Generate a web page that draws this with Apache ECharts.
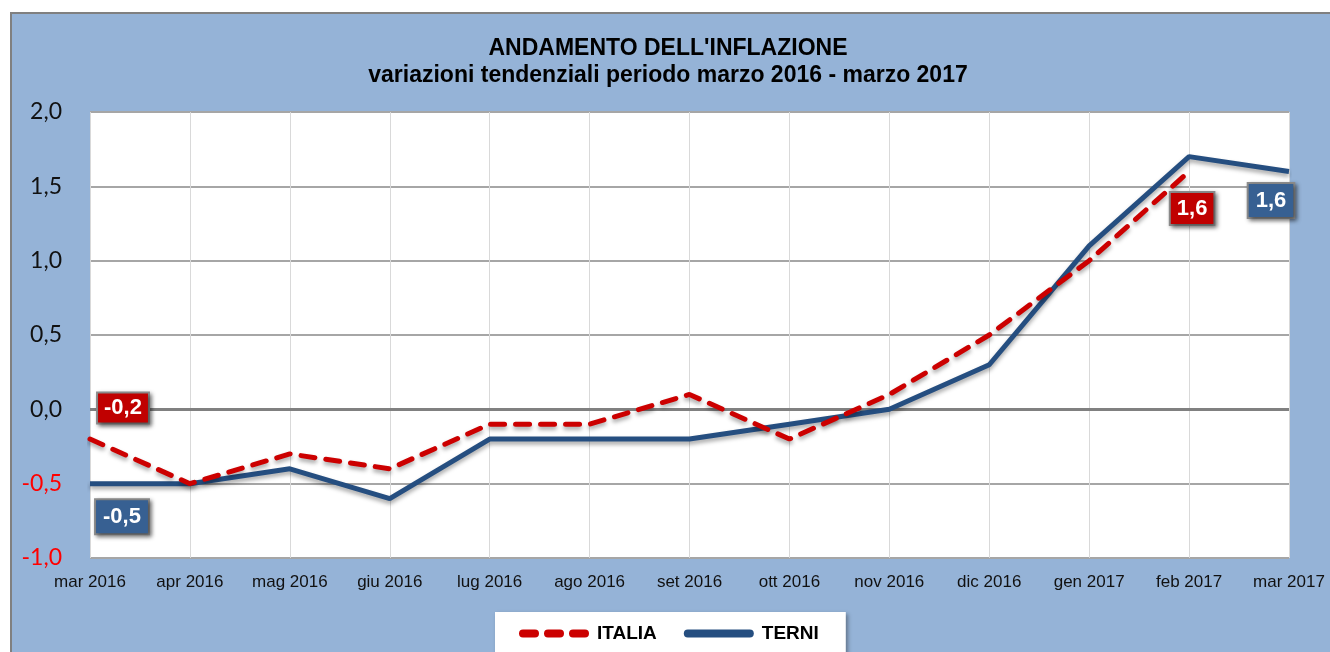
<!DOCTYPE html>
<html>
<head>
<meta charset="utf-8">
<script src="https://cdn.jsdelivr.net/npm/echarts@6/dist/echarts.min.js"></script>
<style>
    html, body { margin: 0; padding: 0; background: #fff; }
    #main { width: 1330px; height: 652px; }
</style>
</head>
<body>
<div id="main"></div>
<script>
var mesi = ['mar 2016', 'apr 2016', 'mag 2016', 'giu 2016', 'lug 2016', 'ago 2016', 'set 2016',
    'ott 2016', 'nov 2016', 'dic 2016', 'gen 2017', 'feb 2017', 'mar 2017'];
var italia = [-0.2, -0.5, -0.3, -0.4, -0.1, -0.1, 0.1, -0.2, 0.1, 0.5, 1.0, 1.6, null];
var terni = [-0.5, -0.5, -0.4, -0.6, -0.2, -0.2, -0.2, -0.1, 0.0, 0.3, 1.1, 1.7, 1.6];

function virgola(v) {
    return v.toFixed(1).replace('.', ',');
}

// etichetta a riquadro sui punti estremi
function etichetta(colore, offset, pad) {
    return {
        show: true,
        position: 'inside',
        offset: offset,
        formatter: function (p) { return virgola(p.value); },
        color: '#fff',
        fontFamily: 'Liberation Sans',
        fontWeight: 'bold',
        fontSize: 22,
        backgroundColor: colore,
        borderColor: '#8c8c8c',
        borderWidth: 2,
        padding: pad,
        shadowColor: 'rgba(0,0,0,0.45)',
        shadowBlur: 4,
        shadowOffsetX: 2,
        shadowOffsetY: 2
    };
}

function conEtichette(valori, etichette) {
    return valori.map(function (v, i) {
        if (etichette[i]) return { value: v, label: etichette[i] };
        return v;
    });
}

function initChart() {
    var myChart = echarts.init(document.getElementById('main'));
    var option = {
        backgroundColor: '#fff',
        graphic: [{
            type: 'rect',
            shape: { x: 11, y: 13, width: 1340, height: 660 },
            style: { fill: '#95b3d7', stroke: '#808080', lineWidth: 2 },
            z: -10
        }],
        title: {
            text: "ANDAMENTO DELL'INFLAZIONE\nvariazioni tendenziali periodo marzo 2016 - marzo 2017",
            left: 663,
            top: 30,
            textAlign: 'center',
            textStyle: {
                fontFamily: 'Liberation Sans',
                fontWeight: 'bold',
                fontSize: 23,
                lineHeight: 27,
                color: '#000'
            }
        },
        legend: {
            left: 495,
            top: 612,
            padding: [12, 27, 16, 24],
            itemGap: 27,
            itemWidth: 70,
            itemHeight: 8,
            backgroundColor: '#fff',
            shadowColor: 'rgba(0,0,0,0.35)',
            shadowBlur: 4,
            shadowOffsetX: 2,
            shadowOffsetY: 2,
            textStyle: {
                fontFamily: 'Liberation Sans',
                fontWeight: 'bold',
                fontSize: 19,
                color: '#000',
                padding: [0, 0, 0, 3]
            },
            data: [
                { name: 'ITALIA', icon: 'path://M4,0h12a4,4 0 0 1 0,8h-12a4,4 0 0 1 0,-8z M29,0h12a4,4 0 0 1 0,8h-12a4,4 0 0 1 0,-8z M54,0h12a4,4 0 0 1 0,8h-12a4,4 0 0 1 0,-8z' },
                { name: 'TERNI', icon: 'path://M4,0h62a4,4 0 0 1 0,8h-62a4,4 0 0 1 0,-8z' }
            ]
        },
        grid: {
            left: 90,
            right: 41,
            top: 112,
            bottom: 94,
            show: true,
            backgroundColor: '#fff',
            borderWidth: 0
        },
        xAxis: {
            type: 'category',
            boundaryGap: false,
            data: mesi,
            axisLine: { show: false },
            axisTick: { show: false },
            axisLabel: {
                margin: 16,
                fontFamily: 'Liberation Sans',
                fontSize: 17,
                color: '#111'
            },
            splitLine: { show: true, lineStyle: { color: '#d9d9d9', width: 1 } }
        },
        yAxis: {
            type: 'value',
            min: -1,
            max: 2,
            interval: 0.5,
            axisLine: { show: false },
            axisTick: { show: false },
            axisLabel: {
                margin: 28,
                fontFamily: 'Lato',
                fontSize: 23,
                formatter: function (v) { return virgola(v); },
                color: function (v) { return v < 0 ? '#ff0000' : '#111'; }
            },
            splitLine: { lineStyle: { color: '#a6a6a6', width: 2 } }
        },
        series: [
            {
                name: 'TERNI',
                type: 'line',
                data: conEtichette(terni, {
                    0: etichetta('#376092', [32, 33], [6, 7, 5, 7]),
                    12: etichetta('#376092', [-18, 29], [6, 7, 5, 7])
                }),
                showSymbol: true,
                symbol: 'circle',
                symbolSize: 0,
                color: '#254e80',
                lineStyle: {
                    width: 5,
                    color: '#254e80',
                    shadowColor: 'rgba(0,0,0,0.35)',
                    shadowBlur: 4,
                    shadowOffsetY: 3
                },
                z: 3,
                markLine: {
                    silent: true,
                    symbol: 'none',
                    label: { show: false },
                    lineStyle: { color: '#808080', type: 'solid', width: 3 },
                    data: [{ yAxis: 0 }],
                    z: 1
                }
            },
            {
                name: 'ITALIA',
                type: 'line',
                data: conEtichette(italia, {
                    0: etichetta('#c00000', [33, -31], [4, 6, 3, 6]),
                    11: etichetta('#c00000', [3, 37], [5, 6, 4, 6])
                }),
                showSymbol: true,
                symbol: 'circle',
                symbolSize: 0,
                color: '#cc0000',
                lineStyle: {
                    width: 5,
                    color: '#cc0000',
                    type: [14, 11],
                    cap: 'round',
                    shadowColor: 'rgba(0,0,0,0.35)',
                    shadowBlur: 4,
                    shadowOffsetY: 3
                },
                z: 4
            }
        ]
    };
    myChart.setOption(option);
}

initChart();
</script>
</body>
</html>
